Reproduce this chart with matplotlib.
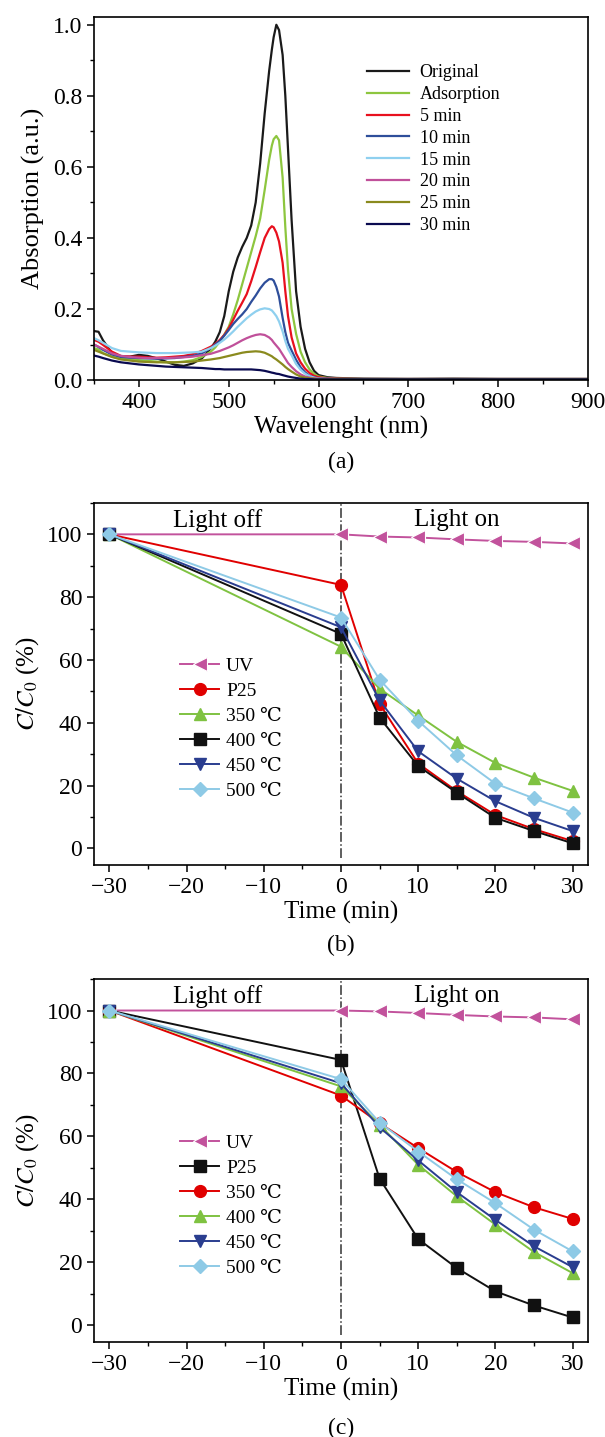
import numpy as np
import matplotlib
matplotlib.use('Agg')
import matplotlib.pyplot as plt
from matplotlib.ticker import MultipleLocator, FormatStrFormatter, FuncFormatter

plt.rcParams['font.family'] = ['Liberation Serif', 'DejaVu Serif', 'DejaVu Sans']
plt.rcParams['mathtext.fontset'] = 'stix'
plt.rcParams['axes.linewidth'] = 1.2

# ---- panel (a): UV-vis spectra ----
wl = [350, 355, 360, 370, 380, 390, 400, 410, 420, 430, 440, 450, 460, 470, 480, 485,
      490, 495, 500, 505, 510, 515, 520, 525, 530, 535, 540, 545, 548, 550, 553, 556,
      560, 563, 566, 570, 575, 580, 585, 590, 595, 600, 610, 620, 650, 700, 750, 800,
      850, 900]

a_original = [0.138, 0.136, 0.112, 0.076, 0.066, 0.066, 0.071, 0.068, 0.061, 0.052, 0.043, 0.040,
              0.047, 0.061, 0.089, 0.108, 0.135, 0.18, 0.25, 0.305, 0.345, 0.375, 0.40, 0.435,
              0.50, 0.61, 0.75, 0.87, 0.93, 0.965, 1.0, 0.985, 0.915, 0.80, 0.65, 0.45, 0.25,
              0.15, 0.088, 0.05, 0.026, 0.014, 0.008, 0.006, 0.004, 0.003, 0.004, 0.003, 0.003,
              0.003]
a_adsorption = [0.09, 0.086, 0.076, 0.066, 0.06, 0.058, 0.056, 0.054, 0.052, 0.05, 0.05, 0.052,
                0.056, 0.065, 0.08, 0.092, 0.108, 0.128, 0.15, 0.185, 0.225, 0.27, 0.315, 0.36,
                0.405, 0.455, 0.535, 0.62, 0.66, 0.678, 0.687, 0.675, 0.57, 0.43, 0.31, 0.2,
                0.13, 0.08, 0.05, 0.03, 0.017, 0.01, 0.006, 0.004, 0.003, 0.003, 0.003, 0.003,
                0.003, 0.003]
a_5 = [0.113, 0.108, 0.099, 0.08, 0.068, 0.066, 0.066, 0.064, 0.063, 0.064, 0.066, 0.068,
       0.073, 0.082, 0.094, 0.102, 0.113, 0.127, 0.146, 0.17, 0.195, 0.218, 0.242, 0.278,
       0.318, 0.36, 0.40, 0.425, 0.433, 0.43, 0.415, 0.39, 0.33, 0.25, 0.18, 0.12,
       0.075, 0.05, 0.032, 0.02, 0.012, 0.008, 0.005, 0.004, 0.003, 0.003, 0.003, 0.003,
       0.003, 0.003]
a_10 = [0.1, 0.093, 0.085, 0.072, 0.065, 0.063, 0.062, 0.061, 0.06, 0.061, 0.062, 0.065,
        0.068, 0.075, 0.09, 0.1, 0.11, 0.125, 0.141, 0.158, 0.172, 0.185, 0.2, 0.22,
        0.238, 0.258, 0.274, 0.284, 0.284, 0.28, 0.262, 0.235, 0.175, 0.135, 0.105, 0.083,
        0.057, 0.036, 0.022, 0.012, 0.008, 0.005, 0.004, 0.003, 0.003, 0.003, 0.003, 0.003,
        0.003, 0.003]
a_15 = [0.118, 0.112, 0.105, 0.09, 0.082, 0.08, 0.078, 0.077, 0.076, 0.076, 0.076, 0.077,
        0.078, 0.08, 0.09, 0.097, 0.105, 0.114, 0.125, 0.137, 0.15, 0.162, 0.174, 0.184,
        0.193, 0.199, 0.202, 0.2, 0.196, 0.19, 0.18, 0.165, 0.137, 0.11, 0.088, 0.07,
        0.045, 0.029, 0.018, 0.011, 0.007, 0.004, 0.003, 0.003, 0.003, 0.003, 0.003, 0.003,
        0.003, 0.003]
a_20 = [0.1, 0.094, 0.088, 0.075, 0.068, 0.065, 0.063, 0.062, 0.062, 0.062, 0.063, 0.064,
        0.066, 0.07, 0.074, 0.078, 0.082, 0.087, 0.092, 0.098, 0.105, 0.112, 0.118, 0.123,
        0.127, 0.129, 0.127, 0.12, 0.113, 0.106, 0.097, 0.088, 0.072, 0.06, 0.048, 0.037,
        0.025, 0.016, 0.01, 0.007, 0.005, 0.004, 0.003, 0.003, 0.003, 0.003, 0.003, 0.003,
        0.003, 0.003]
a_25 = [0.085, 0.08, 0.075, 0.065, 0.058, 0.055, 0.052, 0.051, 0.05, 0.05, 0.05, 0.051,
        0.052, 0.055, 0.058, 0.06, 0.062, 0.065, 0.068, 0.071, 0.074, 0.077, 0.079, 0.08,
        0.081, 0.08, 0.077, 0.071, 0.067, 0.063, 0.058, 0.052, 0.044, 0.037, 0.031, 0.024,
        0.016, 0.01, 0.007, 0.005, 0.004, 0.003, 0.003, 0.003, 0.003, 0.003, 0.003, 0.003,
        0.003, 0.003]
a_30 = [0.069, 0.066, 0.062, 0.055, 0.05, 0.047, 0.044, 0.042, 0.04, 0.038, 0.037, 0.036,
        0.035, 0.034, 0.032, 0.031, 0.031, 0.030, 0.030, 0.030, 0.030, 0.030, 0.030, 0.030,
        0.029, 0.028, 0.026, 0.023, 0.021, 0.02, 0.018, 0.017, 0.014, 0.012, 0.01, 0.008,
        0.006, 0.004, 0.003, 0.003, 0.002, 0.002, 0.002, 0.002, 0.002, 0.002, 0.002, 0.002,
        0.002, 0.002]

a_labels = ['Original', 'Adsorption', '5 min', '10 min', '15 min', '20 min', '25 min', '30 min']
a_colors = ['#1a1a1a', '#8dc63f', '#e8101e', '#2e4e9a', '#8fd0ef', '#c0509a', '#8a8a1e', '#0a0a50']

# ---- panels (b) and (c): C/C0 vs time ----
t = [-30, 0, 5, 10, 15, 20, 25, 30]
series_labels = ['UV', 'P25', '350 ℃', '400 ℃', '450 ℃', '500 ℃']

b_uv = [100, 100, 99.3, 99.0, 98.4, 97.9, 97.6, 97.1]
b_p25 = [100, 83.9, 46, 27, 18.2, 10.6, 6.1, 2.3]
b_350 = [100, 64.2, 50.8, 42.3, 33.9, 27.2, 22.5, 18.3]
b_400 = [100, 68.3, 41.6, 26.2, 17.7, 9.7, 5.5, 1.6]
b_450 = [100, 70.4, 47.1, 30.9, 22.2, 15.0, 9.7, 5.5]
b_500 = [100, 73.5, 53.7, 40.6, 29.6, 20.6, 15.9, 11.4]

c_uv = [100, 100, 99.7, 99.2, 98.6, 98.1, 97.8, 97.2]
c_p25 = [100, 84.3, 46.6, 27.4, 18.2, 10.8, 6.3, 2.5]
c_350 = [100, 73.0, 64.2, 56.3, 48.7, 42.3, 37.5, 33.8]
c_400 = [100, 75.9, 63.7, 51.0, 41.0, 32.0, 23.3, 16.6]
c_450 = [100, 76.9, 62.9, 52.4, 42.3, 33.5, 25.1, 18.5]
c_500 = [100, 78.2, 64.4, 55.2, 46.4, 38.8, 30.4, 23.5]

pink = '#c2529c'
red = '#e00000'
green = '#7fc241'
black = '#111111'
navy = '#2a3d8f'
light = '#8ecae6'

b_styles = [(pink, '<'), (red, 'o'), (green, '^'), (black, 's'), (navy, 'v'), (light, 'D')]
c_styles = [(pink, '<'), (black, 's'), (red, 'o'), (green, '^'), (navy, 'v'), (light, 'D')]

fig = plt.figure(figsize=(6.05, 14.37), dpi=100)
ax_a = fig.add_axes([0.1554, 0.7355, 0.8165, 0.2527])
ax_b = fig.add_axes([0.1554, 0.3981, 0.8165, 0.2519])
ax_c = fig.add_axes([0.1554, 0.0661, 0.8165, 0.2526])

for ys, lab, col in zip([a_original, a_adsorption, a_5, a_10, a_15, a_20, a_25, a_30],
                        a_labels, a_colors):
    ax_a.plot(wl, ys, color=col, lw=1.6, label=lab)

ax_a.set_xlim(350, 900)
ax_a.set_ylim(0, 1.022)
ax_a.xaxis.set_major_locator(MultipleLocator(100))
ax_a.xaxis.set_minor_locator(MultipleLocator(50))
ax_a.yaxis.set_major_locator(MultipleLocator(0.2))
ax_a.yaxis.set_minor_locator(MultipleLocator(0.1))
ax_a.yaxis.set_major_formatter(FormatStrFormatter('%.1f'))
ax_a.set_xlabel('Wavelenght (nm)', fontsize=18, labelpad=2)
ax_a.set_ylabel('Absorption (a.u.)', fontsize=19, labelpad=6)
ax_a.legend(loc='upper left', bbox_to_anchor=(0.535, 0.895), frameon=False, fontsize=13,
            handlelength=2.3, handletextpad=0.6, labelspacing=0.27, borderpad=0)


def kinetics(ax, data, styles):
    for ys, lab, (col, mk) in zip(data, series_labels, styles):
        if mk == '<':
            ax.plot(t, ys, color=col, lw=1.4, marker=mk, ms=10, mec='white', mew=0.8,
                    mfc=col, label=lab, zorder=3)
        else:
            ax.plot(t, ys, color=col, lw=1.4, marker=mk, ms=8.5 if mk != 'D' else 7.5,
                    mec=col, mfc=col, label=lab, zorder=3)
    ax.axvline(0, ymin=0.02, ymax=1, color='#333333', lw=1.1, ls='-.', zorder=2)
    ax.set_xlim(-32, 32)
    ax.set_ylim(-5.3, 110)
    ax.xaxis.set_major_locator(MultipleLocator(10))
    ax.xaxis.set_minor_locator(MultipleLocator(5))
    ax.yaxis.set_major_locator(MultipleLocator(20))
    ax.yaxis.set_minor_locator(MultipleLocator(10))
    ax.xaxis.set_major_formatter(FuncFormatter(
        lambda v, p: ('\u2212%d' % -v) if v < 0 else '%d' % v))
    ax.set_xlabel('Time (min)', fontsize=18, labelpad=2)
    ax.set_ylabel(r'$C/C_0$ (%)', fontsize=18, labelpad=4)
    ax.text(-16, 104.5, 'Light off', fontsize=18, ha='center', va='center')
    ax.text(15, 104.5, 'Light on', fontsize=18, ha='center', va='center')
    ax.legend(loc='upper left', bbox_to_anchor=(0.155, 0.6), frameon=False, fontsize=14,
              handlelength=2.0, handletextpad=0.35, labelspacing=0.38, borderpad=0)


kinetics(ax_b, [b_uv, b_p25, b_350, b_400, b_450, b_500], b_styles)
kinetics(ax_c, [c_uv, c_p25, c_350, c_400, c_450, c_500], c_styles)

for ax in (ax_a, ax_b, ax_c):
    ax.tick_params(which='both', direction='out', top=False, right=False, labelsize=17)
    ax.tick_params(which='major', length=5, width=1.1)
    ax.tick_params(which='minor', length=3, width=1.0)

fig.text(0.5634, 1 - 462 / 1437, '(a)', fontsize=17, ha='center', va='center')
fig.text(0.5634, 1 - 945 / 1437, '(b)', fontsize=17, ha='center', va='center')
fig.text(0.5634, 1 - 1428 / 1437, '(c)', fontsize=17, ha='center', va='center')

fig.savefig('out.png', dpi=100)
